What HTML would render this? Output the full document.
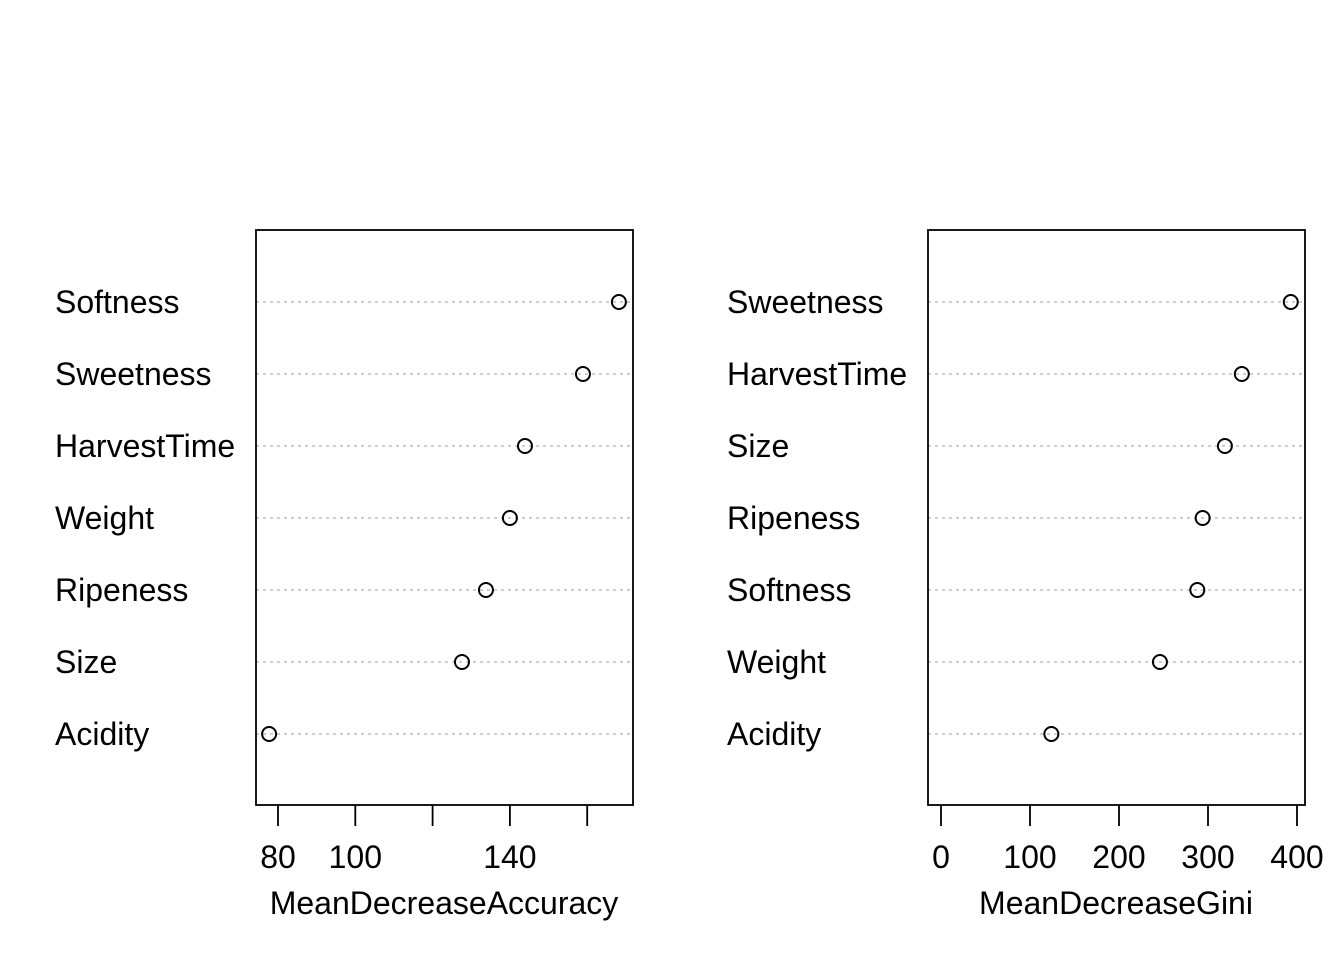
<!DOCTYPE html>
<html><head><meta charset="utf-8"><style>
html,body{margin:0;padding:0;background:#fff;}
svg text{font-family:"Liberation Sans",Arial,sans-serif;fill:#000;}
</style></head><body>
<svg id="chart" width="1344" height="960" xmlns="http://www.w3.org/2000/svg"></svg>
<script>
const leftLabels = ["Softness","Sweetness","HarvestTime","Weight","Ripeness","Size","Acidity"];
const leftValues = [168.2,158.9,143.9,140.0,133.8,127.6,77.7];
const leftTicks = [80,100,120,140,160];
const leftTickLabels = ["80","100","","140",""];
const rightLabels = ["Sweetness","HarvestTime","Size","Ripeness","Softness","Weight","Acidity"];
const rightValues = [393,338,319,294,288,246,124];
const rightTicks = [0,100,200,300,400];
const rightTickLabels = ["0","100","200","300","400"];

const svg = document.getElementById('chart');
const NS = 'http://www.w3.org/2000/svg';
function mk(tag, attrs, parent){const e=document.createElementNS(NS,tag);for(const k in attrs)e.setAttribute(k,attrs[k]);(parent||svg).appendChild(e);return e;}

function panel(name, boxL, boxR, x0px, v0, pxPerUnit, labels, values, ticks, tickLabels, labelX, title, titleX){
  const g = mk('g',{});
  
  
  const xs = v => x0px + (v - v0) * pxPerUnit;
  const top = 230, bottom = 805;
  const ys = i => 302 + i * 72;
  labels.forEach((lab, i) => {
    const ln = mk('line',{x1:boxL,x2:boxR,y1:ys(i),y2:ys(i),stroke:'#b0b0b0','stroke-width':1.3,'stroke-dasharray':'3,4'},g);
    
    
    const t = mk('text',{x:labelX,y:ys(i)+11,'font-size':32},g);
    t.textContent = lab;
    
    
    const c = mk('circle',{cx:xs(values[i]),cy:ys(i),r:7,fill:'none',stroke:'#000','stroke-width':2},g);
    
    
  });
  const box = mk('rect',{x:boxL,y:top,width:boxR-boxL,height:bottom-top,fill:'none',stroke:'#000','stroke-width':1.8},g);
  
  
  ticks.forEach((v, i) => {
    const tk = mk('line',{x1:xs(v),x2:xs(v),y1:bottom,y2:826,stroke:'#000','stroke-width':1.8},g);
    
    
    if (tickLabels[i]) {
      const tl = mk('text',{x:xs(v),y:868,'font-size':32,'text-anchor':'middle'},g);
      tl.textContent = tickLabels[i];
      
      
    }
  });
  const tt = mk('text',{x:titleX,y:914,'font-size':32,'text-anchor':'middle'},g);
  tt.textContent = title;
  
  
}
panel('accuracy-panel',256,633,278,80,77.3/20,leftLabels,leftValues,leftTicks,leftTickLabels,55,'MeanDecreaseAccuracy',444);
panel('gini-panel',928,1305,941,0,0.89,rightLabels,rightValues,rightTicks,rightTickLabels,727,'MeanDecreaseGini',1116);
</script>
</body></html>
